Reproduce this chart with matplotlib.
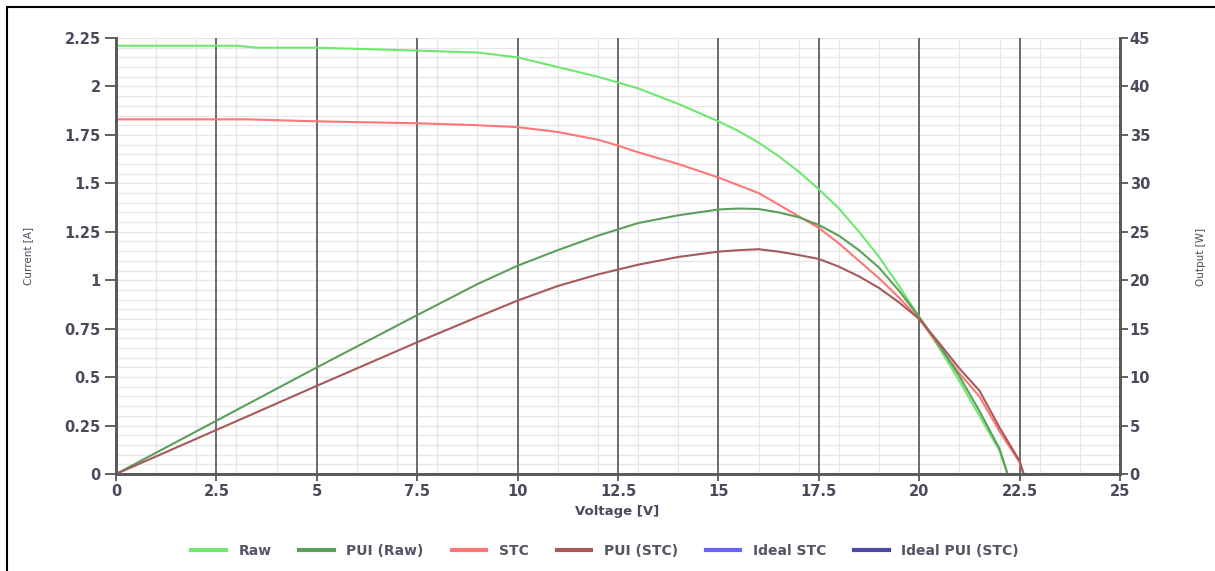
import matplotlib
matplotlib.use("Agg")
import matplotlib.pyplot as plt
from matplotlib.patches import Rectangle
from matplotlib.ticker import MultipleLocator

# ---------------- data ----------------
voltage_raw = [0, 3, 3.5, 5, 7.5, 9, 10, 11, 12, 12.5, 13, 14, 15, 15.5, 16, 16.5, 17, 17.5,
               18, 18.5, 19, 19.5, 20, 20.5, 21, 21.5, 22, 22.2]
current_raw = [2.21, 2.21, 2.20, 2.20, 2.185, 2.175, 2.15, 2.10, 2.05, 2.02, 1.99, 1.91, 1.82, 1.77,
               1.71, 1.64, 1.56, 1.47, 1.37, 1.25, 1.12, 0.97, 0.81, 0.65, 0.48, 0.30, 0.12, 0.0]
power_raw = [0, 6.6, 7.7, 11.0, 16.4, 19.6, 21.5, 23.1, 24.6, 25.25, 25.9, 26.7, 27.3, 27.4,
             27.35, 27.0, 26.5, 25.7, 24.6, 23.1, 21.3, 18.9, 16.2, 13.3, 10.1, 6.5, 2.6, 0]

voltage_stc = [0, 3.3, 5, 7.5, 9, 10, 11, 12, 12.5, 13, 14, 15, 15.5, 16, 16.5, 17, 17.5,
               18, 18.5, 19, 19.5, 20, 20.5, 21, 21.5, 22, 22.5, 22.6]
current_stc = [1.83, 1.83, 1.82, 1.81, 1.80, 1.79, 1.765, 1.725, 1.695, 1.66, 1.60, 1.53, 1.49, 1.45,
               1.39, 1.33, 1.27, 1.19, 1.10, 1.01, 0.91, 0.80, 0.66, 0.52, 0.40, 0.22, 0.06, 0.0]
power_stc = [0, 6.0, 9.1, 13.6, 16.2, 17.9, 19.4, 20.6, 21.1, 21.6, 22.4, 22.95, 23.1, 23.2,
             22.95, 22.6, 22.2, 21.4, 20.4, 19.2, 17.7, 16.0, 13.5, 10.9, 8.6, 4.8, 1.35, 0]

voltage_ideal = []
current_ideal = []
power_ideal = []

series_labels = ["Raw", "PUI (Raw)", "STC", "PUI (STC)", "Ideal STC", "Ideal PUI (STC)"]
series_colors = ["#6ee86e", "#5c9f5c", "#ff7676", "#a65a5a", "#6666ff", "#4a4aa6"]

x_ticks = [0, 2.5, 5, 7.5, 10, 12.5, 15, 17.5, 20, 22.5, 25]
left_ticks = [0, 0.25, 0.5, 0.75, 1, 1.25, 1.5, 1.75, 2, 2.25]
right_ticks = [0, 5, 10, 15, 20, 25, 30, 35, 40, 45]

# ---------------- figure ----------------
W, H = 1215, 571
fig = plt.figure(figsize=(W / 100, H / 100), dpi=100)
fig.patch.set_facecolor("white")

ax = fig.add_axes([116 / W, 1 - 474 / H, (1120 - 116) / W, (474 - 38) / H])
ax2 = ax.twinx()

tick_color = "#4a4a5c"
tick_font = dict(family="DejaVu Sans", size=10.5, weight="bold", color=tick_color)

ax.set_xlim(0, 25)
ax.set_ylim(0, 2.25)
ax2.set_ylim(0, 45)
ax.xaxis.set_minor_locator(MultipleLocator(1))
ax.yaxis.set_minor_locator(MultipleLocator(0.05))
ax.grid(which="minor", color="#e6e6e6", lw=0.9, zorder=0.3)
ax.grid(which="major", axis="y", color="#e6e6e6", lw=0.9, zorder=0.3)
ax.set_axisbelow(True)
for xv in x_ticks[1:-1]:
    ax.axvline(xv, color="#6a6a6a", lw=1.4, zorder=1)

# lines
lw = 1.5
l_raw, = ax.plot(voltage_raw, current_raw, color=series_colors[0], lw=lw, label=series_labels[0], zorder=3)
l_stc, = ax.plot(voltage_stc, current_stc, color=series_colors[2], lw=lw, label=series_labels[2], zorder=3)
l_ideal, = ax.plot(voltage_ideal, current_ideal, color=series_colors[4], lw=lw, label=series_labels[4])
l_praw, = ax2.plot(voltage_raw, power_raw, color=series_colors[1], lw=lw, label=series_labels[1])
l_pstc, = ax2.plot(voltage_stc, power_stc, color=series_colors[3], lw=lw, label=series_labels[3])
l_pideal, = ax2.plot(voltage_ideal, power_ideal, color=series_colors[5], lw=lw, label=series_labels[5])

# ticks
ax.set_xticks(x_ticks)
ax.set_xticklabels(["%g" % t for t in x_ticks], **tick_font)
ax.set_yticks(left_ticks)
ax.set_yticklabels(["%g" % t for t in left_ticks], **tick_font)
ax2.set_yticks(right_ticks)
ax2.set_yticklabels(["%g" % t for t in right_ticks], **tick_font)
ax.tick_params(axis="both", which="major", color="#555555", width=1.3, length=8, pad=3)
ax.tick_params(axis="x", which="major", length=5, pad=2)
ax.tick_params(which="minor", length=0)
ax2.tick_params(axis="y", which="major", color="#555555", width=1.3, length=6, pad=1)
ax2.tick_params(which="minor", length=0)

for a in (ax, ax2):
    a.spines["top"].set_visible(False)
    for s in ("left", "right", "bottom"):
        a.spines[s].set_color("#5a5a5a")
        a.spines[s].set_linewidth(2)

label_font = dict(family="DejaVu Sans", color=tick_color)
fig.text(617 / W, 1 - 511 / H, "Voltage [V]", ha="center", va="center", size=9.5, weight="bold", **label_font)
fig.text(28 / W, 1 - 256 / H, "Current [A]", ha="center", va="center", rotation=90, size=7.5, **label_font)
fig.text(1201 / W, 1 - 257 / H, "Output [W]", ha="center", va="center", rotation=90, size=7.5, **label_font)

handles = [l_raw, l_praw, l_stc, l_pstc, l_ideal, l_pideal]
leg = fig.legend(handles, series_labels, loc="center", bbox_to_anchor=(605 / W, 1 - 551 / H),
                 ncol=6, frameon=False, handlelength=2.5, handletextpad=0.9, columnspacing=2.0,
                 prop=dict(family="DejaVu Sans", size=10, weight="bold"))
for t in leg.get_texts():
    t.set_color("#555566")
for h in leg.legend_handles:
    h.set_linewidth(3)

# outer frame
fig.patches.append(Rectangle((7 / W, -0.1), 2, 1 - 7 / H + 0.1, transform=fig.transFigure,
                             fill=False, ec="black", lw=1.5))

fig.savefig("out.png", dpi=100)
